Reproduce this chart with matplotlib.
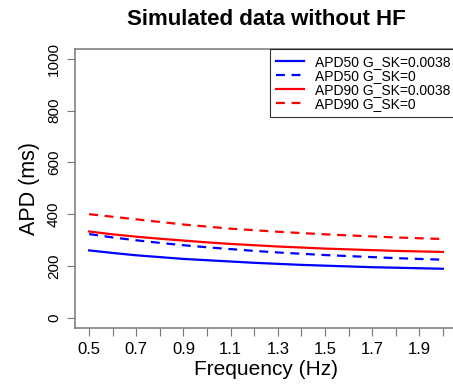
import numpy as np
import matplotlib
matplotlib.use("Agg")
import matplotlib.pyplot as plt

plt.rcParams['font.family'] = ['Liberation Sans', 'DejaVu Sans']

# frequency (Hz)
freq = [0.5, 0.6, 0.7, 0.8, 0.9, 1.0, 1.1, 1.2, 1.3, 1.4, 1.5, 1.6, 1.7, 1.8, 1.9, 2.0]

# APD values (ms)
apd50_gsk = [260, 250, 241, 234, 227, 222, 217, 212, 208, 204, 201, 198, 195, 193, 191, 189]
apd50_nogsk = [323, 310, 299, 289, 280, 272, 265, 258, 252, 247, 242, 238, 234, 230, 227, 224]
apd90_gsk = [333, 322, 313, 305, 298, 291, 285, 280, 275, 271, 267, 264, 261, 258, 256, 254]
apd90_nogsk = [400, 390, 380, 370, 360, 352, 344, 338, 332, 327, 322, 318, 314, 310, 307, 304]

series_labels = ["APD50 G_SK=0.0038", "APD50 G_SK=0", "APD90 G_SK=0.0038", "APD90 G_SK=0"]

fig = plt.figure(figsize=(4.53, 3.87), dpi=100)
ax = fig.add_axes([75 / 453, 1 - 328 / 387, (457 - 75) / 453, (328 - 48.6) / 387])

ax.plot(freq, apd50_gsk, color='blue', lw=1.6, label=series_labels[0])
ax.plot(freq, apd50_nogsk, color='blue', lw=1.6, ls=(0, (4, 3)), label=series_labels[1])
ax.plot(freq, apd90_gsk, color='red', lw=1.6, label=series_labels[2])
ax.plot(freq, apd90_nogsk, color='red', lw=1.6, ls=(0, (4, 3)), label=series_labels[3])

ax.set_xlim(0.44, 2.06)
ax.set_ylim(-40, 1040)

grey = '#777777'
for s in ['left', 'top', 'bottom', 'right']:
    ax.spines[s].set_color(grey)
    ax.spines[s].set_linewidth(1.1)

xt = np.arange(0.5, 2.01, 0.1)
ax.set_xticks(xt)
ax.set_xticklabels([f"{v:.1f}" if i % 2 == 0 else "" for i, v in enumerate(xt)])
ax.set_yticks([0, 200, 400, 600, 800, 1000])
ax.set_yticklabels(["0", "200", "400", "600", "800", "1000"], rotation=90, va='center')
ax.tick_params(direction='out', length=6, color=grey, pad=4)
ax.tick_params(axis='x', labelsize=12)
ax.tick_params(axis='y', labelsize=11)

ax.set_xlabel("Frequency (Hz)", fontsize=15, labelpad=2)
ax.set_ylabel("APD (ms)", fontsize=15.5, labelpad=5)
ax.set_title("Simulated data without HF", fontsize=16, fontweight='bold', pad=17)

leg = ax.legend(loc='upper right', fontsize=10, frameon=True, fancybox=False,
                edgecolor='black', borderaxespad=0, handlelength=2.0,
                labelspacing=0.0, borderpad=0.45, handletextpad=0.8)
leg.get_frame().set_linewidth(0.8)

fig.savefig("out.png", dpi=100)
